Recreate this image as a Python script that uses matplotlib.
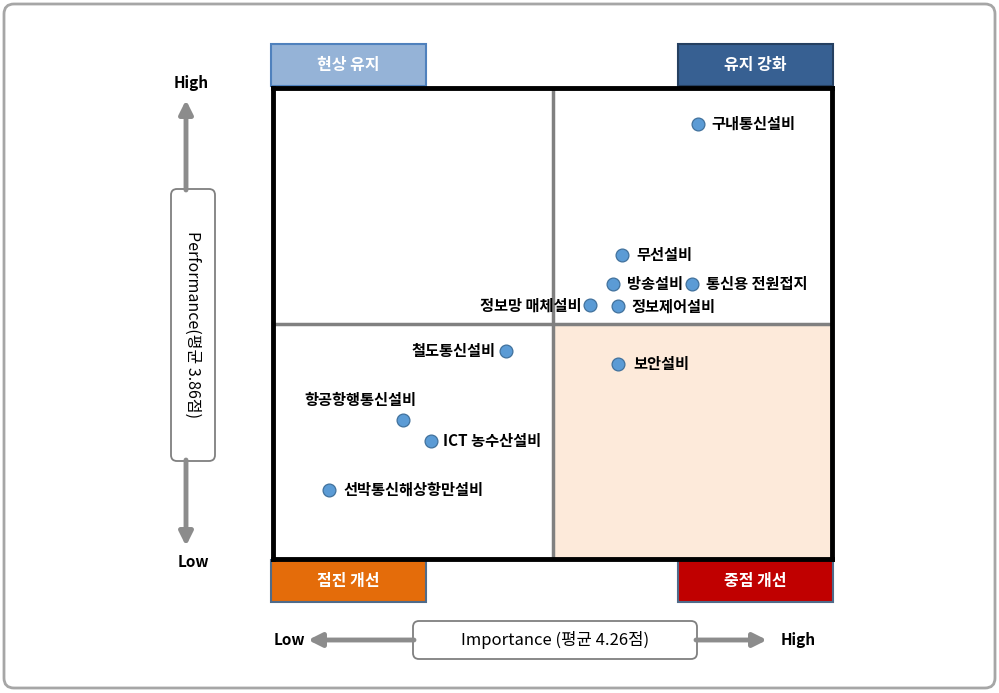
import matplotlib.pyplot as plt
from matplotlib.patches import Rectangle, FancyBboxPatch

plt.rcParams['font.family'] = ['Noto Sans CJK KR', 'DejaVu Sans']

# IPA data: importance (x) and performance (y)
names = ['구내통신설비', '무선설비', '방송설비', '통신용 전원접지', '정보망 매체설비',
         '정보제어설비', '철도통신설비', '보안설비', '항공항행통신설비',
         'ICT 농수산설비', '선박통신해상항만설비']
importance = [4.416, 4.335, 4.325, 4.41, 4.30, 4.33, 4.21, 4.33, 4.10, 4.13, 4.02]
performance = [4.114, 3.947, 3.91, 3.91, 3.883, 3.882, 3.825, 3.808, 3.737, 3.71, 3.648]
imp_mean = 4.26
perf_mean = 3.86

# label offsets in pixels (dx, dy, ha)
label_pos = [(14, 0, 'left'), (14, 0, 'left'), (14, 0, 'left'), (14, 0, 'left'),
             (-8, 0, 'right'), (14, 0, 'left'), (-10, 0, 'right'), (16, 0, 'left'),
             (13, 20, 'right'), (12, 0, 'left'), (15, 0, 'left')]

W, H = 999, 693
fig = plt.figure(figsize=(W / 100, H / 100), dpi=100)

# background canvas in pixel coordinates
bg = fig.add_axes([0, 0, 1, 1])
bg.set_xlim(0, W)
bg.set_ylim(H, 0)
bg.axis('off')

bg.add_patch(FancyBboxPatch((4, 4), W - 8, H - 9, boxstyle='round,pad=0,rounding_size=10',
                            fc='white', ec='#A6A6A6', lw=2))

# quadrant title boxes
quad_boxes = [(271, 44, '현상 유지', '#95B3D7', '#4F81BD'),
              (678, 44, '유지 강화', '#376092', '#254061'),
              (271, 560, '점진 개선', '#E46C0A', '#4F6B8A'),
              (678, 560, '중점 개선', '#C00000', '#4F6B8A')]
for x0, y0, txt, fc, ec in quad_boxes:
    bg.add_patch(Rectangle((x0, y0), 155, 42, fc=fc, ec=ec, lw=1.5))
    bg.text(x0 + 77.5, y0 + 21, txt, color='white', fontsize=11.5, fontweight='bold',
            ha='center', va='center')

arrow_kw = dict(arrowstyle='-|>,head_length=0.8,head_width=0.4', color='#8C8C8C', lw=3.5,
                shrinkA=0, shrinkB=0)

# vertical axis (performance)
bg.annotate('', xy=(186, 100), xytext=(186, 190), arrowprops=arrow_kw)
bg.annotate('', xy=(186, 546), xytext=(186, 460), arrowprops=arrow_kw)
bg.add_patch(FancyBboxPatch((171, 189), 44, 272, boxstyle='round,pad=0,rounding_size=6',
                            fc='white', ec='#7F7F7F', lw=1.3))
bg.text(193, 325, 'Performance(평균 3.86점)', rotation=-90, fontsize=11.5,
        ha='center', va='center')
bg.text(191, 83, 'High', fontsize=11, fontweight='bold', ha='center', va='center')
bg.text(193, 562, 'Low', fontsize=11, fontweight='bold', ha='center', va='center')

# horizontal axis (importance)
bg.annotate('', xy=(308, 640), xytext=(414, 640), arrowprops=arrow_kw)
bg.annotate('', xy=(767, 640), xytext=(696, 640), arrowprops=arrow_kw)
bg.add_patch(FancyBboxPatch((413, 621), 284, 38, boxstyle='round,pad=0,rounding_size=6',
                            fc='white', ec='#7F7F7F', lw=1.3))
bg.text(555, 640, 'Importance (평균 4.26점)', fontsize=12, ha='center', va='center')
bg.text(289, 640, 'Low', fontsize=11, fontweight='bold', ha='center', va='center')
bg.text(798, 640, 'High', fontsize=11, fontweight='bold', ha='center', va='center')

# main IPA matrix
ax = fig.add_axes([273 / W, (H - 559) / H, (832 - 273) / W, (559 - 88) / H])
ax.set_xlim(imp_mean - 0.30, imp_mean + 0.30)
ax.set_ylim(perf_mean - 0.30, perf_mean + 0.30)
ax.set_xticks([])
ax.set_yticks([])
for sp in ax.spines.values():
    sp.set_linewidth(3.5)
    sp.set_color('black')

ax.add_patch(Rectangle((imp_mean, perf_mean - 0.30), 0.30, 0.30, fc='#FDEADA', ec='none', zorder=0))
ax.axvline(imp_mean, color='#808080', lw=2.5, zorder=1)
ax.axhline(perf_mean, color='#808080', lw=2.5, zorder=1)

ax.scatter(importance, performance, s=85, color='#5B9BD5', edgecolors='#41719C',
           linewidths=0.9, zorder=3)
for name, x, y, (dx, dy, ha) in zip(names, importance, performance, label_pos):
    ax.annotate(name, (x, y), xytext=(dx, dy), textcoords='offset pixels',
                ha=ha, va='center', fontsize=11, fontweight='bold', zorder=4)

fig.savefig('out.png', dpi=100)
